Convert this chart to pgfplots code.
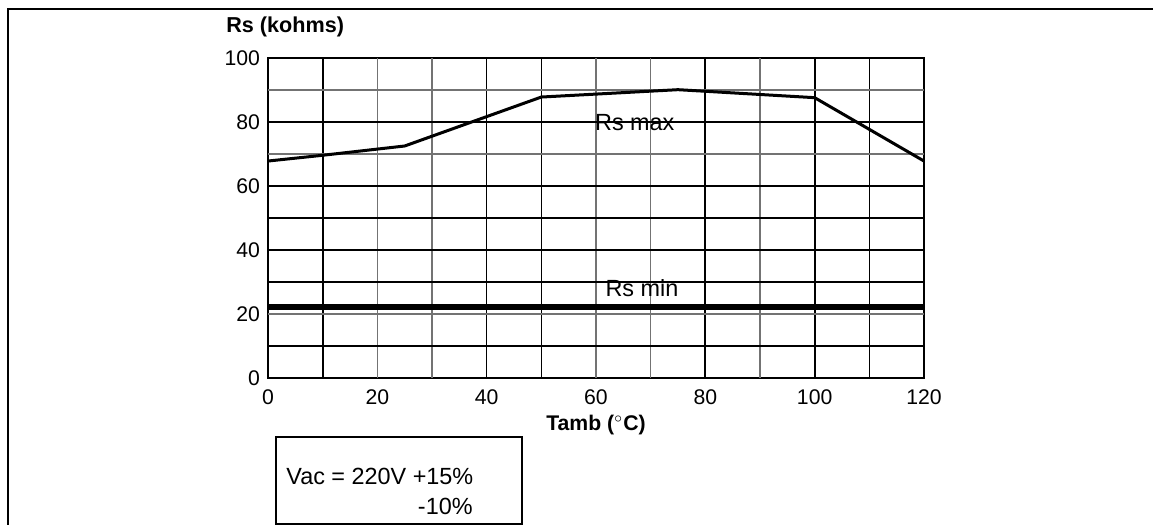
\documentclass[border=0pt]{standalone}
\usepackage{fontspec}
\setmainfont{Liberation Sans}
\usepackage{pgfplots}
\pgfplotsset{compat=1.18}
\begin{document}
\begin{tikzpicture}[x=1pt,y=1pt]
\path[use as bounding box] (0,0) rectangle (576.5,262.5);
\draw[line width=1pt] (4,0) -- (4,258) -- (576.5,258);
\begin{axis}[
  at={(134pt,73.5pt)}, anchor=south west,
  scale only axis, width=328pt, height=160pt,
  xmin=0, xmax=120, ymin=0, ymax=100,
  xtick={0,20,...,120}, ytick={0,20,...,100},
  major tick length=0pt,
  axis line style={line width=1pt},
  /pgf/number format/assume math mode=true,
  tick label style={font=\fontsize{10.6}{12}\selectfont},
  yticklabel style={xshift=-0.5pt},
  xticklabel style={yshift=-2.5pt},
  clip=false,
]
% grid lines
\pgfplotsinvokeforeach{10,80,100}{\draw[black, line width=0.85pt] (axis cs:#1,0) -- (axis cs:#1,100);}
\pgfplotsinvokeforeach{40,50,110}{\draw[black, line width=0.55pt] (axis cs:#1,0) -- (axis cs:#1,100);}
\pgfplotsinvokeforeach{20,30,60,70,90}{\draw[black!55, line width=0.6pt] (axis cs:#1,0) -- (axis cs:#1,100);}
\pgfplotsinvokeforeach{40,60,80}{\draw[black, line width=0.85pt] (axis cs:0,#1) -- (axis cs:120,#1);}
\pgfplotsinvokeforeach{10,30,50}{\draw[black, line width=0.55pt] (axis cs:0,#1) -- (axis cs:120,#1);}
\pgfplotsinvokeforeach{20,70,90}{\draw[black!55, line width=0.6pt] (axis cs:0,#1) -- (axis cs:120,#1);}
\addplot[black, line width=1.5pt] coordinates {(0,67.8) (10,69.6) (25,72.5) (50,87.8) (75,90.1) (100,87.6) (120,67.8)};
\addplot[black, line width=2.8pt] coordinates {(0,22.2) (120,22.2)};
\node[font=\fontsize{11.7}{13}\selectfont, inner sep=0pt] at (axis cs:67.1,79.8) {Rs max};
\node[font=\fontsize{11.7}{13}\selectfont, inner sep=0pt] at (axis cs:68.4,28.0) {Rs min};
\end{axis}
\node[anchor=west, font=\fontsize{10.8}{12}\selectfont\bfseries, inner sep=0pt] at (113,249) {Rs (kohms)};
\node[font=\fontsize{10.6}{12}\selectfont] at (298,50) {\textbf{Tamb (}$^{\circ}$\textbf{C)}};
\draw[line width=0.8pt] (138,0.5) rectangle (261,44);
\node[anchor=west, font=\fontsize{11.7}{13}\selectfont, inner sep=0pt] at (143,24.3) {Vac = 220V +15\%};
\node[anchor=east, font=\fontsize{11.7}{13}\selectfont, inner sep=0pt] at (236.5,9.5) {-10\%};
\end{tikzpicture}
\end{document}
